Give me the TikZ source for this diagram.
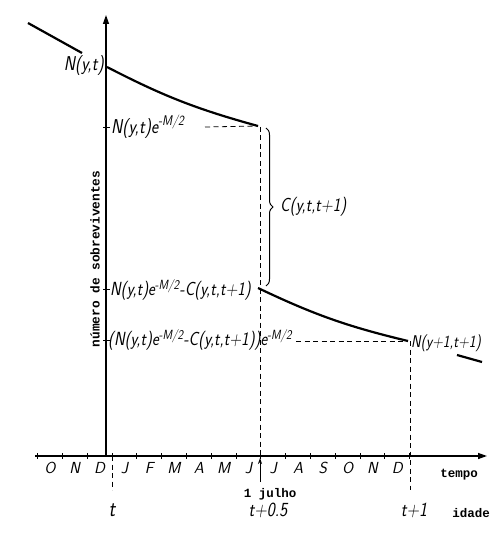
\documentclass[tikz,border=0pt]{standalone}
\usepackage{fontspec}
\newfontfamily\monob{Liberation Mono}
\usetikzlibrary{arrows.meta,decorations.pathreplacing}
\tikzset{
  curve/.style={line width=2.2pt},
  axis/.style={line width=1.3pt,-{Triangle[length=9pt,width=6pt]}},
  dsh/.style={dashed,dash pattern=on 5pt off 3.5pt,line width=0.8pt},
  lab/.style={inner sep=0pt,font=\sffamily\itshape},
  mono/.style={inner sep=0pt,font=\monob\bfseries\fontsize{12.5}{12.5}\selectfont},
  mon/.style={inner sep=0pt,font=\sffamily\itshape\fontsize{16}{16}\selectfont},
}
\newcommand{\nx}[2]{\fontsize{#1}{#1}\selectfont\scalebox{0.85}[1]{#2}}
\newcommand{\sm}{\textsuperscript{-M/2}}
\begin{document}
\begin{tikzpicture}[x=1pt,y=-1pt]
\useasboundingbox (0,0) rectangle (500,537);
% axes
\coordinate (O) at (106,456);
\coordinate (ytop) at (106,15);
\coordinate (xl) at (35,456);
\coordinate (xr) at (487,456);
\draw[axis] (O) -- (ytop);
\draw[axis] (xl) -- (xr);
% month ticks
\foreach \i in {0,...,15} {
  \draw[line width=0.8pt] ({37.5+24.8*\i},453) -- ({37.5+24.8*\i},459);
}
\foreach \m [count=\i from 0] in {O,N,D,J,F,M,A,M,J,J,A,S,O,N,D} {
  \node[mon] (m\i) at ({50+24.8*\i},468) {\m};
}
% curve coordinates
\coordinate (c1a) at (28,23);
\coordinate (c1b) at (82,53);
\coordinate (c2a) at (107,67);
\coordinate (c2b) at (258,126);
\coordinate (c3a) at (258,288);
\coordinate (c3b) at (408,341);
\coordinate (c4a) at (457,355);
\coordinate (c4b) at (482,362);
\draw[curve] (c1a) -- (c1b);
\draw[curve] (c2a) to[bend right=6] (c2b);
\draw[curve] (c3a) to[bend right=6] (c3b);
\draw[curve] (c4a) -- (c4b);
% axis ticks at labels
\foreach \yy in {127,289,340} { \draw[line width=0.7pt] (103,\yy) -- (110,\yy); }
% dashed lines
\coordinate (h1) at (205,127);
\coordinate (h2) at (296,341);
\coordinate (v1t) at (112,456);
\coordinate (v1b) at (112,490);
\coordinate (v2t) at (260,127);
\coordinate (v2b) at (260,456);
\coordinate (v3b) at (410,490);
\draw[dsh] (h1) -- (c2b);
\draw[dsh] (h2) -- (c3b);
\draw[dsh] (v1t) -- (v1b);
\draw[dsh] (v2t) -- (v2b);
\draw[dsh] (c3b) ++(2,0) -- (v3b);
% brace
\coordinate (bt) at (266,128);
\coordinate (bb) at (266,286);
\draw[line width=1pt,decorate,decoration={brace,amplitude=7pt}] (bt) -- (bb);
\node[lab,anchor=west] (C) at (280,207) {\nx{19}{C(y,t,t+1)}};
% labels
\node[lab,anchor=east] (N1) at (104,66) {\nx{20}{N(y,t)}};
\node[lab,anchor=west] (N2) at (111,127) {\nx{20}{N(y,t)e\sm}};
\node[lab,anchor=west] (N3) at (110,290) {\nx{19}{N(y,t)e\sm-C(y,t,t+1)}};
\node[lab,anchor=west] (N4) at (108,340) {\nx{19}{(N(y,t)e\sm-C(y,t,t+1))e\sm}};
\node[lab,anchor=west] (N5) at (411,343) {\nx{17}{N(y+1,t+1)}};
% y label
\node[mono,rotate=90,font=\monob\bfseries\fontsize{12.8}{12.8}\selectfont] (yl) at (95,259) {número de sobreviventes};
% bottom
\coordinate (ja) at (260,482);
\draw[line width=0.8pt,-{Stealth[length=6pt,width=4pt]}] (ja) -- (260,458);
\node[mono] (jul) at (270,494) {1 julho};
\node[mono] (tempo) at (459,475) {tempo};
\node[mono] (idade) at (471,513) {idade};
\node[lab] (t0) at (112,510) {\nx{23}{t}};
\node[lab] (t5) at (268,510) {\nx{20}{t+0.5}};
\node[lab] (t1) at (414,510) {\nx{20}{t+1}};
\end{tikzpicture}
\end{document}
